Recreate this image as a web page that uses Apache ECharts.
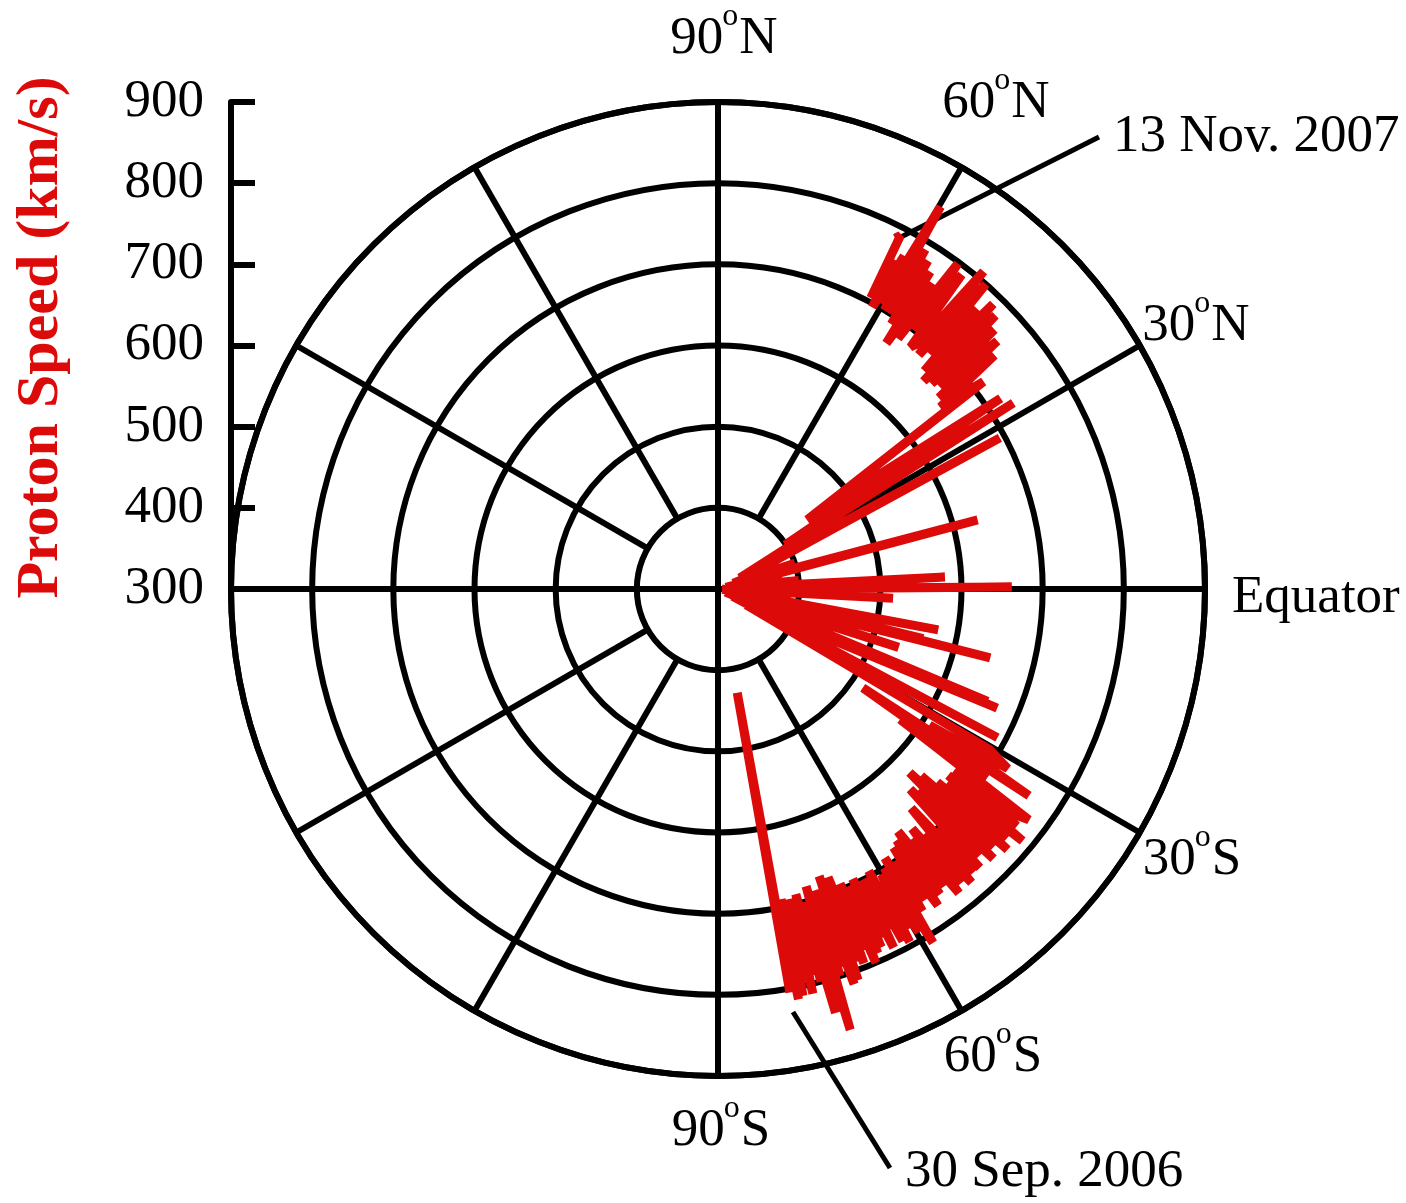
<!DOCTYPE html>
<html>
<head>
<meta charset="utf-8">
<title>Proton speed versus heliographic latitude</title>
<script src="https://cdn.jsdelivr.net/npm/echarts@6/dist/echarts.min.js"></script>
<style>
  html, body { margin: 0; padding: 0; background: #ffffff; }
  #chart { width: 1406px; height: 1203px; }
</style>
</head>
<body>
<div id="chart"></div>
<script>
// ---- data: solar wind proton speed (km/s) against heliographic latitude (deg) ----

// south polar pass
const southLat = [-79.9, -79.5, -79.6, -79.2, -78.9, -78.5, -78.2, -77.8, -77.5, -77.1, -76.8, -76.4, -76.0,
  -75.7, -75.3, -74.9, -74.5, -74.2, -73.8, -73.5, -73.3, -72.9, -72.5, -72.1, -71.8, -71.4, -71.0, -70.6,
  -70.3, -69.9, -69.5, -69.1, -68.7, -68.3, -67.9, -67.5, -67.1, -66.7, -66.3, -65.9, -65.5, -65.1, -64.7,
  -64.3, -63.9, -63.5, -63.1, -62.7, -62.3, -61.9, -61.5, -61.1, -60.7, -60.2, -59.7, -59.2, -58.7, -58.2,
  -57.6, -57.0, -56.4, -55.8, -55.2, -54.6, -54.0, -53.4, -52.8, -52.2, -51.6, -51.0, -50.4, -49.8, -49.2,
  -48.6, -48.0, -47.4, -46.8, -46.2, -45.6, -45.0, -44.4, -43.8, -43.2, -42.6, -42.0, -41.4, -40.8, -40.2,
  -39.6, -39.0, -38.4, -37.8, -37.2, -36.6, -36.0];
const southSpeed = [805, 430, 800, 705, 815, 690, 812, 710, 795, 692, 812, 700, 790,
  688, 800, 700, 842, 720, 785, 682, 867, 705, 800, 690, 790, 700, 815, 675,
  812, 695, 790, 680, 795, 700, 780, 693, 800, 705, 790, 700, 785, 694, 775,
  700, 792, 700, 770, 710, 790, 694, 795, 715, 780, 705, 790, 700, 810, 690,
  770, 700, 760, 685, 775, 680, 765, 672, 760, 690, 778, 680, 770, 695, 778,
  660, 770, 700, 771, 642, 760, 650, 775, 627, 765, 640, 780, 660, 770, 670,
  787, 665, 770, 667, 760, 777, 640];

// fast latitude scan through the equatorial streamer belt
const scanLat = [-35.6, -34.8, -34.3, -33.6, -32.8, -31.8, -30.6, -29.5, -28.0, -26.5, -24.5, -23.1,
  -21.5, -22.6, -20.0, -17.9, -16.5, -14.2, -12.8, -13.6, -11.0, -10.5, -8.5, -6.5, -4.5, -3.0, -1.2,
  0.4, 1.6, 3.0, 4.5, 6.0, 8.0, 10.0, 11.8, 14.9, 16.5, 18.5, 20.5, 22.5, 24.5, 28.2, 27.0, 32.2,
  33.3, 34.0, 37.8, 38.0];
const scanSpeed = [576, 705, 516, 760, 610, 720, 689, 340, 690, 320, 420, 674,
  310, 660, 330, 534, 315, 646, 330, 560, 320, 576, 310, 390, 305, 516, 310,
  662, 315, 580, 330, 400, 320, 380, 310, 631, 330, 400, 320, 380, 340, 694, 330, 730,
  399, 720, 439, 715];

// northern high-latitude fast wind
const northLat = [39.3, 40.2, 40.9, 41.6, 42.4, 43.2, 43.9, 44.6, 45.3, 46.0, 46.6, 47.3, 48.0, 48.7,
  49.4, 50.1, 50.8, 51.5, 52.2, 52.9, 53.6, 54.3, 55.0, 55.6, 56.2, 56.8, 57.4, 58.0, 58.6, 59.2,
  59.8, 60.3, 60.8, 61.3, 61.8, 62.3, 62.7, 63.2, 62.7];
const northSpeed = [654, 746, 660, 760, 670, 767, 665, 780, 660, 788, 670, 770, 690, 800,
  680, 810, 690, 681, 790, 700, 798, 680, 760, 667, 770, 690, 780, 700, 790, 700,
  845, 705, 770, 696, 760, 705, 790, 784, 790];

// speed axis ticks (km/s) and latitude grid
const speedTicks = [300, 400, 500, 600, 700, 800, 900];
const gridLatitudes = [-90, -60, -30, 0, 30, 60, 90, 120, 150, 180, 210, 240];

// latitude annotations and date markers
const latLabels = [
  { deg: '90', hemi: 'N' }, { deg: '60', hemi: 'N' }, { deg: '30', hemi: 'N' },
  { deg: '30', hemi: 'S' }, { deg: '60', hemi: 'S' }, { deg: '90', hemi: 'S' }
];
const equatorLabel = 'Equator';
const startDate = '30 Sep. 2006';
const endDate = '13 Nov. 2007';

// ---- layout / style ----
const CX = 718, CY = 589, R = 487;
const RED = '#DD0A0A';
const SERIF = '"Liberation Serif", "Times New Roman", Times, serif';
const FS = 53;      // main text size
const SUP = 32;     // degree-mark size

// label centres (px) for the latitude annotations, same order as latLabels
const latLabelPos = [[724, 39], [996, 103], [1196, 326], [1192, 860], [993, 1057], [721, 1131]];

const track = [];
[[southLat, southSpeed], [scanLat, scanSpeed], [northLat, northSpeed]].forEach(([lats, speeds]) => {
  lats.forEach((lat, i) => track.push([speeds[i], lat]));
});

// spokes: the four main directions start at the centre, the others at the 400 km/s ring
const spokes = gridLatitudes.map(a => [a % 90 === 0 ? speedTicks[0] : speedTicks[1], a]);

// text measuring for laying out "deg + superscript o + hemisphere"
const measureCtx = document.createElement('canvas').getContext('2d');
function textWidth(str, size) {
  measureCtx.font = size + 'px ' + SERIF;
  return measureCtx.measureText(str).width;
}

function plainText(x, y, text, size, align) {
  return {
    type: 'text', x: x, y: y,
    style: { text: text, font: (size || FS) + 'px ' + SERIF, fill: '#000', textFill: '#000',
             textAlign: align || 'left', textVerticalAlign: 'middle' }
  };
}

const graphics = [];
latLabels.forEach((l, i) => {
  const wDeg = textWidth(l.deg, FS), wSup = textWidth('o', SUP), wHemi = textWidth(l.hemi, FS);
  const left = latLabelPos[i][0] - (wDeg + wSup + wHemi) / 2;
  const cy = latLabelPos[i][1];
  graphics.push(plainText(left, cy, l.deg, FS));
  graphics.push(plainText(left + wDeg - 1, cy - 22, 'o', SUP));
  graphics.push(plainText(left + wDeg + wSup, cy, l.hemi, FS));
});
graphics.push(plainText(CX + R + 27, 598, equatorLabel));
graphics.push({
  type: 'line', shape: { x1: 897, y1: 239, x2: 1099, y2: 137 },
  style: { stroke: '#000', lineWidth: 5 }
});
graphics.push(plainText(1113, 137, endDate));
graphics.push({
  type: 'line', shape: { x1: 793, y1: 1012, x2: 890, y2: 1168 },
  style: { stroke: '#000', lineWidth: 5 }
});
graphics.push(plainText(905, 1172, startDate));

const chart = echarts.init(document.getElementById('chart'), null, { renderer: 'canvas' });

chart.setOption({
  animation: false,
  backgroundColor: '#ffffff',
  polar: { center: [CX, CY], radius: R },
  angleAxis: {
    type: 'value', min: -90, max: 270, interval: 30,
    startAngle: 270, clockwise: false,
    axisLine: { show: true, lineStyle: { color: '#000', width: 6 } },
    axisTick: { show: false }, axisLabel: { show: false }, splitLine: { show: false }
  },
  radiusAxis: {
    type: 'value', min: speedTicks[0], max: speedTicks[speedTicks.length - 1], interval: 100,
    axisLine: { show: false }, axisTick: { show: false }, axisLabel: { show: false },
    splitLine: { show: true, lineStyle: { color: '#000', width: 6 } }
  },
  grid: { left: CX - R, top: CY - R, height: R, width: 10 },
  xAxis: { type: 'value', min: 0, max: 1, show: false },
  yAxis: {
    type: 'value', position: 'left',
    min: speedTicks[0], max: speedTicks[speedTicks.length - 1], interval: 100,
    axisLine: { show: true, onZero: false, lineStyle: { color: '#000', width: 6 } },
    axisTick: { show: true, inside: true, length: 24, lineStyle: { color: '#000', width: 6 } },
    axisLabel: { margin: 27, color: '#000', fontSize: FS, fontFamily: SERIF },
    splitLine: { show: false },
    name: 'Proton Speed (km/s)', nameLocation: 'middle', nameRotate: 90, nameGap: 160,
    nameTextStyle: { color: RED, fontSize: 60, fontWeight: 'bold', fontFamily: SERIF,
                     padding: [0, 0, 0, 16] }
  },
  series: [
    {
      type: 'custom', coordinateSystem: 'polar', silent: true, z: 1,
      data: spokes,
      renderItem: function (params, api) {
        const a = api.value(1);
        const p0 = api.coord([api.value(0), a]);
        const p1 = api.coord([speedTicks[speedTicks.length - 1], a]);
        return {
          type: 'line',
          shape: { x1: p0[0], y1: p0[1], x2: p1[0], y2: p1[1] },
          style: { stroke: '#000', lineWidth: 6 }
        };
      }
    },
    {
      type: 'line', coordinateSystem: 'polar', z: 5, silent: true,
      data: track, symbol: 'none', smooth: false,
      lineStyle: { color: RED, width: 9, cap: 'butt', join: 'bevel' }
    }
  ],
  graphic: graphics
});
</script>
</body>
</html>
